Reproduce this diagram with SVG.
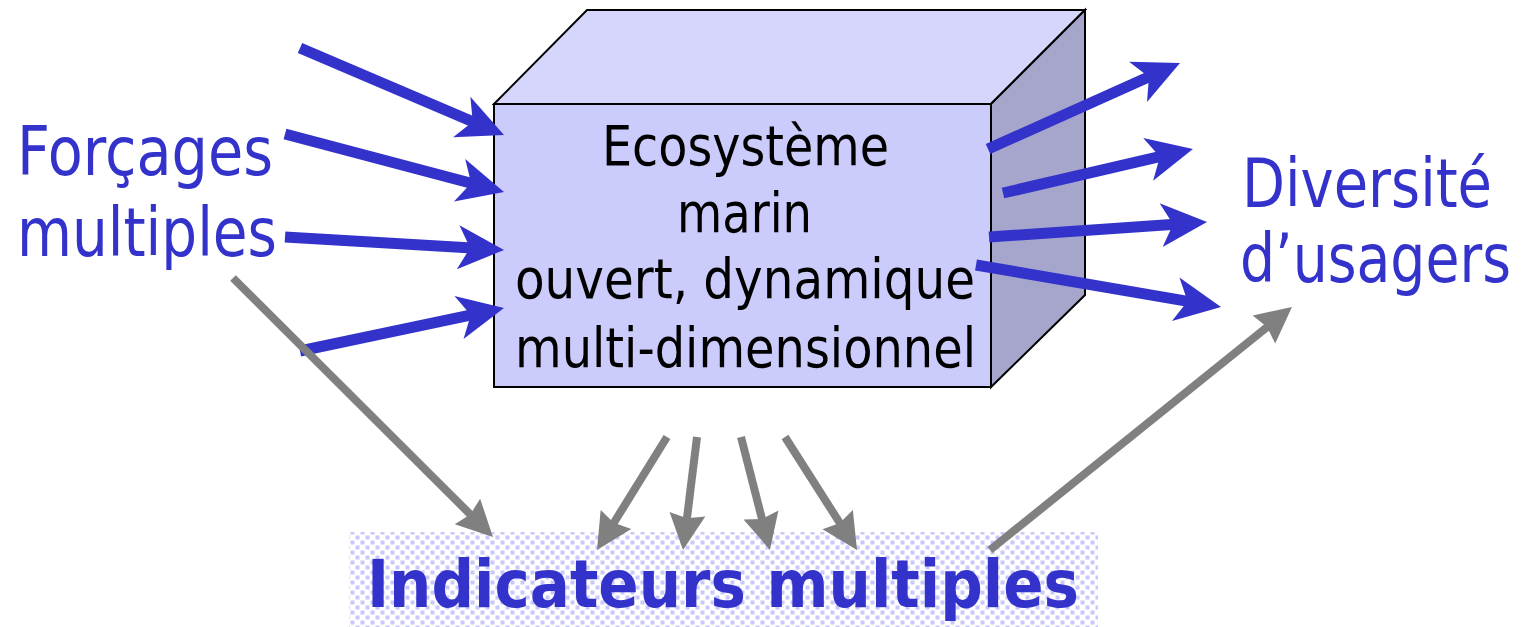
<svg xmlns="http://www.w3.org/2000/svg" width="1526" height="627" viewBox="0 0 1526 627">
<style>
.lbl{font-family:"DejaVu Sans Condensed","DejaVu Sans",Verdana,sans-serif;fill:#3333cc;font-size:67px}
.box{font-family:"DejaVu Sans Condensed","DejaVu Sans",Verdana,sans-serif;fill:#000;font-size:55px;text-anchor:middle}
.ind{font-family:"DejaVu Sans Condensed","DejaVu Sans",Verdana,sans-serif;fill:#3333cc;font-size:66px;font-weight:bold}
.blue{stroke:#3333cc;stroke-width:11;fill:none;marker-end:url(#hb)}
.gray{stroke:#808080;stroke-width:8;fill:none;marker-end:url(#hg)}
.edge{stroke:#000;stroke-width:2;stroke-linejoin:miter}
</style>
<defs>
<marker id="hb" markerUnits="userSpaceOnUse" markerWidth="46" markerHeight="44" refX="14" refY="22" orient="auto" overflow="visible">
<path d="M0,0 L46,22 L0,44 L12,22 Z" fill="#3333cc"/>
</marker>
<marker id="hg" markerUnits="userSpaceOnUse" markerWidth="36" markerHeight="36" refX="6" refY="18" orient="auto" overflow="visible">
<path d="M0,0 L36,18 L0,36 L4,18 Z" fill="#808080"/>
</marker>
<pattern id="dots" width="10" height="10" patternUnits="userSpaceOnUse">
<rect width="10" height="10" fill="#ffffff"/>
<rect x="0.5" y="0.5" width="4" height="4" fill="#c8c8fc"/>
<rect x="5.5" y="5.5" width="4" height="4" fill="#c8c8fc"/>
</pattern>
</defs>
<rect width="1526" height="627" fill="#fff"/>

<g id="indicateurs">
<rect x="349" y="532" width="749" height="95" fill="url(#dots)"/>
<text class="ind" x="367" y="607" textLength="712" lengthAdjust="spacingAndGlyphs">Indicateurs multiples</text>
</g>

<g id="ecosysteme">
<polygon class="edge" points="494,104 587,10 1085,10 991,104" fill="#d6d6fc"/>
<polygon class="edge" points="991,104 1085,10 1085,295 991,387" fill="#a6a6cc"/>
<rect class="edge" x="494" y="104" width="497" height="283" fill="#ccccfc"/>
<text class="box" x="745.5" y="165" textLength="287" lengthAdjust="spacingAndGlyphs">Ecosystème</text>
<text class="box" x="744.5" y="232" textLength="135" lengthAdjust="spacingAndGlyphs">marin</text>
<text class="box" x="745" y="298" textLength="460" lengthAdjust="spacingAndGlyphs">ouvert, dynamique</text>
<text class="box" x="745.5" y="367" textLength="461" lengthAdjust="spacingAndGlyphs">multi-dimensionnel</text>
</g>

<g id="forcages">
<text class="lbl" x="17" y="175" textLength="256" lengthAdjust="spacingAndGlyphs">Forçages</text>
<text class="lbl" x="17" y="256" textLength="260" lengthAdjust="spacingAndGlyphs">multiples</text>
</g>

<g id="usagers">
<text class="lbl" x="1242" y="207" textLength="250" lengthAdjust="spacingAndGlyphs">Diversité</text>
<text class="lbl" transform="translate(1240,282) scale(1,1.08)" x="0" y="0" style="font-size:62px" textLength="271" lengthAdjust="spacingAndGlyphs">d’usagers</text>
</g>

<g id="connectors">
<path class="blue" d="M300,48 L474.6,122.5"/>
<path class="blue" d="M285,134 L473.1,183.8"/>
<path class="blue" d="M285,237 L472.1,248.1"/>
<path class="blue" d="M300,351 L472.7,314.6"/>
<path class="blue" d="M988,149 L1150.8,76.1"/>
<path class="blue" d="M1003,193 L1161.8,156.2"/>
<path class="blue" d="M989,237 L1175.1,224.2"/>
<path class="blue" d="M976,265 L1189.5,301.6"/>
<path class="gray" d="M233,278 L471.7,515.8"/>
<path class="gray" d="M990,550 L1268.6,325.8"/>
<path class="gray" d="M667,437 L612.8,524.5"/>
<path class="gray" d="M697,437 L686.7,520.2"/>
<path class="gray" d="M741,437 L762.5,520.9"/>
<path class="gray" d="M785,437 L840.9,524.7"/>
</g>
</svg>
